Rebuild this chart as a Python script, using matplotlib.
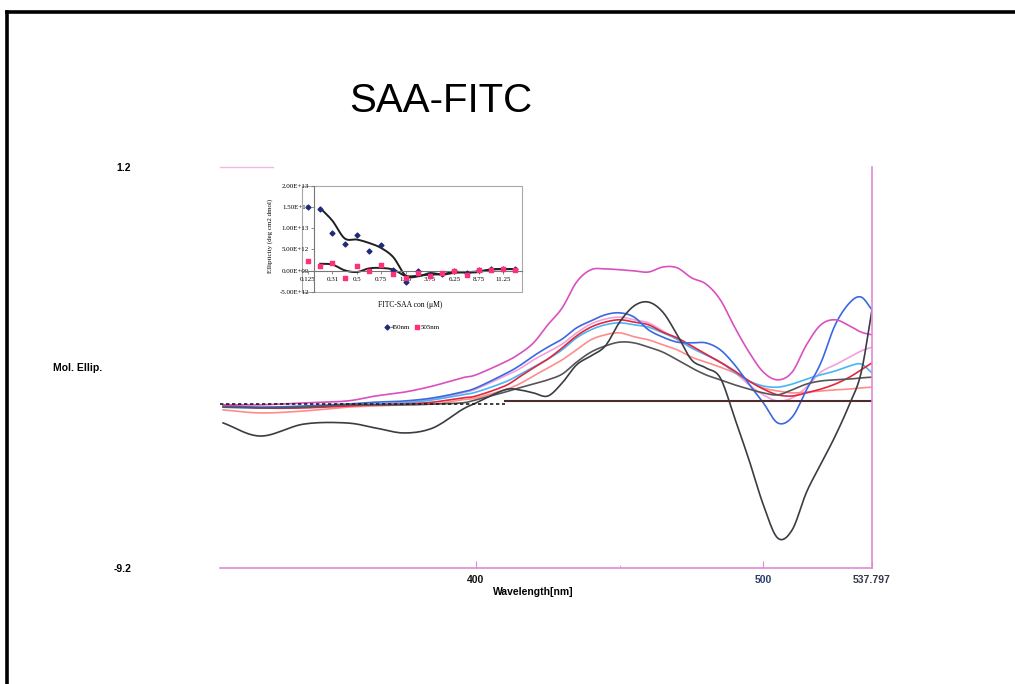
import numpy as np
import matplotlib
matplotlib.use("Agg")
import matplotlib.pyplot as plt
from matplotlib.lines import Line2D
from matplotlib.patches import Rectangle

# CD spectra (wavelength in nm, molar ellipticity in plot units)
wavelength = [312, 325, 340, 355, 365, 375, 385, 395, 400, 410, 415, 420,
              425, 430, 435, 440, 445, 450, 455, 460, 465, 470, 475, 480,
              485, 490, 495, 500, 505, 510, 515, 520, 525, 530, 534, 537.797]

black_deep = [-5.44, -5.78, -5.47, -5.44, -5.57, -5.70, -5.57, -5.10, -4.92, -4.58, -4.58, -4.66,
              -4.74, -4.40, -3.93, -3.70, -3.44, -2.82, -2.40, -2.30, -2.56, -3.15, -3.80, -4.01,
              -4.27, -5.31, -6.40, -7.57, -8.43, -8.22, -7.24, -6.51, -5.78, -4.95, -4.14, -2.50]
black_flat = [-5.03, -5.05, -5.03, -4.97, -4.97, -4.97, -4.95, -4.92, -4.84, -4.64, -4.53, -4.43,
              -4.32, -4.17, -3.86, -3.60, -3.44, -3.34, -3.36, -3.47, -3.60, -3.80, -4.01, -4.19,
              -4.32, -4.45, -4.56, -4.66, -4.71, -4.58, -4.43, -4.35, -4.32, -4.30, -4.27, -4.25]
magenta = [-4.97, -4.97, -4.92, -4.87, -4.74, -4.64, -4.48, -4.27, -4.19, -3.86, -3.65, -3.36,
           -2.89, -2.45, -1.78, -1.46, -1.44, -1.46, -1.49, -1.52, -1.39, -1.41, -1.67, -1.83,
           -2.24, -2.95, -3.60, -4.12, -4.32, -4.12, -3.41, -2.89, -2.76, -2.92, -3.08, -3.15]
blue = [-5.00, -5.03, -5.00, -4.95, -4.90, -4.87, -4.79, -4.64, -4.53, -4.17, -3.96, -3.70,
        -3.47, -3.26, -2.97, -2.79, -2.63, -2.58, -2.69, -3.02, -3.21, -3.34, -3.36, -3.36,
        -3.54, -3.93, -4.43, -4.92, -5.44, -5.29, -4.58, -3.88, -2.89, -2.32, -2.17, -2.50]
cyan = [-5.03, -5.05, -5.03, -4.97, -4.95, -4.92, -4.84, -4.71, -4.64, -4.38, -4.19, -3.99,
        -3.78, -3.54, -3.23, -3.02, -2.89, -2.84, -2.89, -2.95, -3.10, -3.26, -3.49, -3.67,
        -3.86, -4.12, -4.35, -4.48, -4.51, -4.43, -4.30, -4.19, -4.09, -3.96, -3.91, -4.14]
red = [-4.97, -5.05, -5.05, -5.00, -4.97, -4.95, -4.90, -4.79, -4.74, -4.48, -4.25, -4.01,
       -3.78, -3.49, -3.18, -2.95, -2.82, -2.76, -2.82, -2.89, -3.08, -3.23, -3.44, -3.65,
       -3.86, -4.09, -4.35, -4.56, -4.71, -4.74, -4.66, -4.56, -4.43, -4.25, -4.06, -3.88]
salmon = [-5.10, -5.18, -5.13, -5.03, -5.00, -4.97, -4.95, -4.84, -4.79, -4.58, -4.43, -4.22,
          -4.01, -3.80, -3.54, -3.28, -3.15, -3.10, -3.20, -3.28, -3.41, -3.54, -3.73, -3.86,
          -3.99, -4.14, -4.35, -4.53, -4.61, -4.66, -4.64, -4.61, -4.58, -4.56, -4.53, -4.51]
light_pink = [-5.00, -5.03, -5.03, -4.97, -4.95, -4.90, -4.82, -4.66, -4.56, -4.22, -4.04, -3.80,
              -3.60, -3.39, -3.10, -2.87, -2.74, -2.69, -2.76, -2.84, -3.05, -3.28, -3.49, -3.67,
              -3.86, -4.12, -4.45, -4.71, -4.87, -4.79, -4.51, -4.12, -3.93, -3.73, -3.57, -3.47]
baseline = -4.86

# titration inset: ellipticity vs FITC-SAA concentration
conc = ["0.125", "0.25", "0.31", "0.375", "0.5", "0.625", "0.75", "1", "1.25",
        "2.5", "3.75", "5", "6.25", "7.5", "8.75", "10", "11.25", "12.5"]
ell_450 = [1.49e13, 1.45e13, 8.95e12, 6.2e12, 8.4e12, 4.6e12, 6.0e12, 0.2e12, -2.6e12,
           -0.2e12, -1.0e12, -0.9e12, -0.2e12, -0.6e12, 0.2e12, 0.3e12, 0.4e12, 0.3e12]
ell_505 = [2.2e12, 1.0e12, 1.8e12, -1.7e12, 1.0e12, 0.0, 1.2e12, -0.8e12, -1.76e12,
           -0.7e12, -1.2e12, -0.57e12, 0.0, -0.95e12, 0.24e12, 0.24e12, 0.4e12, 0.24e12]


def smooth_path(x, y, steps=12):
    """Catmull-Rom path through every point, like a spreadsheet 'smoothed line'."""
    x = np.asarray(x, float)
    y = np.asarray(y, float)
    px = np.concatenate([[2 * x[0] - x[1]], x, [2 * x[-1] - x[-2]]])
    py = np.concatenate([[2 * y[0] - y[1]], y, [2 * y[-1] - y[-2]]])
    t = np.linspace(0, 1, steps, endpoint=False)[:, None]
    t2, t3 = t * t, t * t * t
    out = []
    for arr in (px, py):
        p0, p1, p2, p3 = arr[:-3], arr[1:-2], arr[2:-1], arr[3:]
        seg = 0.5 * (2 * p1 + (-p0 + p2) * t + (2 * p0 - 5 * p1 + 4 * p2 - p3) * t2
                     + (-p0 + 3 * p1 - 3 * p2 + p3) * t3)
        out.append(np.concatenate([seg.T.ravel(), arr[-2:-1]]))
    return out


plt.rcParams["font.family"] = ["Liberation Sans", "DejaVu Sans"]

fig = plt.figure(figsize=(10.15, 6.84), dpi=100)

# page frame (top and left edges)
fig.add_artist(Line2D([0.0072, 1.0], [0.982, 0.982], color="black", lw=2.6))
fig.add_artist(Line2D([0.0072, 0.0072], [0.0, 0.982], color="black", lw=2.6))

fig.text(0.434, 0.853, "SAA-FITC", fontsize=29, ha="center", va="center")

ax = fig.add_axes([0.2167, 0.170, 0.6424, 0.5854])
axis_pink = "#e08ad6"

curves = [
    (light_pink, "#f3a0d8"),
    (salmon, "#ff8c8c"),
    (cyan, "#47b6f2"),
    (red, "#e3263f"),
    (blue, "#3a68e0"),
    (magenta, "#db4fbf"),
    (black_flat, "#555558"),
    (black_deep, "#3b3c44"),
]
for vals, col in curves:
    sx, sy = smooth_path(wavelength, vals)
    ax.plot(sx, sy, color=col, lw=1.2, solid_joinstyle="round")

ax.plot([311, 410], [baseline - 0.08, baseline - 0.08], color="#1e1e1e", lw=1.2,
        ls=(0, (2, 1.6)))
ax.plot([410, 537.797], [baseline, baseline], color="#4b2d30", lw=1.5)

ax.set_xlim(310.9, 537.797)
ax.set_ylim(-9.2, 1.2)

for side in ["left", "top"]:
    ax.spines[side].set_visible(False)
for side in ["bottom", "right"]:
    ax.spines[side].set_color(axis_pink)
    ax.spines[side].set_linewidth(1.2)
ax.plot([0, 0.081], [1, 1], transform=ax.transAxes, color="#f2b8e0", lw=1, clip_on=False)

ax.set_xticks([400, 500, 537.797])
ax.set_xticklabels(["400", "500", "537.797"], fontsize=7.5, fontweight="bold")
for lbl, col in zip(ax.get_xticklabels(), ["#111111", "#2b3d6b", "#33384a"]):
    lbl.set_color(col)
ax.set_xticks([450], minor=True)
ax.tick_params(axis="x", which="major", direction="in", length=5, color=axis_pink, pad=5)
ax.tick_params(axis="x", which="minor", direction="in", length=2.5, color=axis_pink)

ax.set_yticks([-9.2, 1.2])
ax.set_yticklabels(["-9.2", "1.2"], fontsize=7.5, fontweight="bold")
ax.tick_params(axis="y", length=0, pad=64)
ax.tick_params(axis="y", which="minor", length=0)

fig.text(0.525, 1 - 592 / 684, "Wavelength[nm]", fontsize=7.5, fontweight="bold",
         ha="center", va="center")
fig.text(0.101, 1 - 368 / 684, "Mol. Ellip.", fontsize=7.5, fontweight="bold",
         ha="right", va="center")

# inset
serif = ["Liberation Serif", "DejaVu Serif"]
ax_in = fig.add_axes([0.2975, 0.5735, 0.2163, 0.155])
idx = np.arange(len(conc))
ax_in.scatter(idx, ell_450, marker="D", s=6, color="#1f2a7a", zorder=3, label="450nm")
ax_in.scatter(idx, ell_505, marker="s", s=9, color="#ff2f7a", zorder=3, label="505nm")

# two-point moving averages
ma_450 = [(ell_450[i - 1] + ell_450[i]) / 2 for i in range(1, len(conc))]
ma_505 = [(ell_505[i - 1] + ell_505[i]) / 2 for i in range(1, len(conc))]
for ma in (ma_450, ma_505):
    sx, sy = smooth_path(idx[1:], ma, steps=8)
    ax_in.plot(sx, sy, color="#202020", lw=1.4, zorder=2)

ax_in.set_xlim(-0.5, len(conc) - 0.5)
ax_in.set_ylim(-5e12, 2e13)
ax_in.spines["top"].set_visible(False)
ax_in.spines["right"].set_visible(False)
ax_in.spines["bottom"].set_position(("data", 0))
ax_in.spines["left"].set_position(("data", 0.5))
ax_in.spines["bottom"].set_color("#777777")
ax_in.spines["left"].set_color("#777777")
ax_in.spines["bottom"].set_linewidth(0.8)
ax_in.spines["left"].set_linewidth(0.8)
ax_in.add_patch(Rectangle((0, 0), 1, 1, transform=ax_in.transAxes, fill=False,
                          edgecolor="#a8a8a8", lw=0.8, clip_on=False))

ax_in.set_yticks([-5e12, 0, 5e12, 1e13, 1.5e13, 2e13])
ax_in.set_yticklabels(["-5.00E+12", "0.00E+00", "5.00E+12", "1.00E+13", "1.50E+13", "2.00E+13"],
                      fontsize=5, family=serif)
ax_in.set_xticks(idx[::2])
ax_in.set_xticklabels(conc[::2], fontsize=5, family=serif)
ax_in.tick_params(axis="both", length=2, width=0.6, color="#777777", pad=1.5)
ax_in.tick_params(axis="x", pad=3)

fig.text(270 / 1015, 1 - 236 / 684, "Ellipticity (deg cm2 dmol)", rotation=90,
         fontsize=5, family=serif, ha="center", va="center")
fig.text(410 / 1015, 1 - 305 / 684, "FITC-SAA con (\u03bcM)", fontsize=5.5,
         family=serif, ha="center", va="center")
fig.legend(loc="center", bbox_to_anchor=(412 / 1015, 1 - 327 / 684), ncol=2,
           frameon=False, prop={"family": serif, "size": 5}, handletextpad=0.1,
           columnspacing=0.6, handlelength=0.8, markerscale=1.0)

fig.savefig("out.png", dpi=100)
